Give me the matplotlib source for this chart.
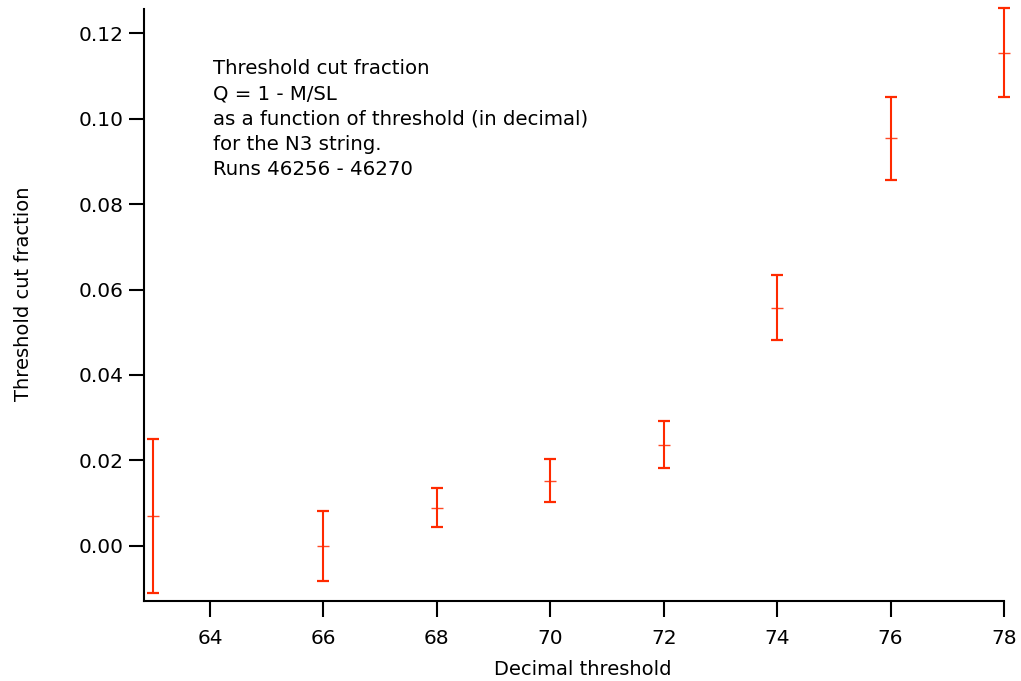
import matplotlib
matplotlib.use("Agg")
import matplotlib.pyplot as plt
import matplotlib.transforms as mtransforms

thresholds = [63, 66, 68, 70, 72, 74, 76, 78]
fraction = [0.0070, 0.0000, 0.0089, 0.0152, 0.0236, 0.0557, 0.0954, 0.1155]
errors = [0.0180, 0.0082, 0.0045, 0.0050, 0.0055, 0.0076, 0.0098, 0.0104]
xticks = [64, 66, 68, 70, 72, 74, 76, 78]
yticks = [0.00, 0.02, 0.04, 0.06, 0.08, 0.10, 0.12]
note = ("Threshold cut fraction\nQ = 1 - M/SL\nas a function of threshold (in decimal)\n"
        "for the N3 string.\nRuns 46256 - 46270")

plt.rcParams['font.family'] = ['DejaVu Sans']
color = '#ff2a00'

fig = plt.figure(figsize=(10.21, 6.81), dpi=100)
ax = fig.add_axes([0.1413, 0.1179, 0.8421, 0.8689])

eb = ax.errorbar(thresholds, fraction, yerr=errors, fmt='none', ecolor=color,
                 elinewidth=1.5, capsize=4.6, capthick=1.6)
for artist in eb.lines[1] + eb.lines[2]:
    artist.set_clip_on(False)
ax.plot(thresholds, fraction, linestyle='none', marker='_', markersize=9,
        markeredgewidth=1.0, color=color, alpha=0.85, clip_on=False)

ax.set_xlim(62.84, 78.0)
ax.set_ylim(-0.01288, 0.1257)
ax.set_xticks(xticks)
ax.set_yticks(yticks)
ax.set_yticklabels([f"{v:.2f}" for v in yticks])

for s in ['top', 'right']:
    ax.spines[s].set_visible(False)
for s in ['left', 'bottom']:
    ax.spines[s].set_linewidth(1.5)

ax.tick_params(axis='x', direction='out', length=11.5, width=1.5, labelsize=14.5, pad=9)
ax.tick_params(axis='y', direction='out', length=10.8, width=1.5, labelsize=14.5, pad=4)

ax.set_xlabel("Decimal threshold", fontsize=14)
ax.set_ylabel("Threshold cut fraction", fontsize=14)
ax.xaxis.set_label_coords(0.5097, -0.100)
ax.yaxis.set_label_coords(-0.1295, 0.518)

trans = mtransforms.blended_transform_factory(ax.transData, ax.transAxes)
ax.text(64.05, 0.915, note, transform=trans, fontsize=14.2, va='top', ha='left',
        linespacing=1.42)

fig.savefig("out.png", dpi=100)
